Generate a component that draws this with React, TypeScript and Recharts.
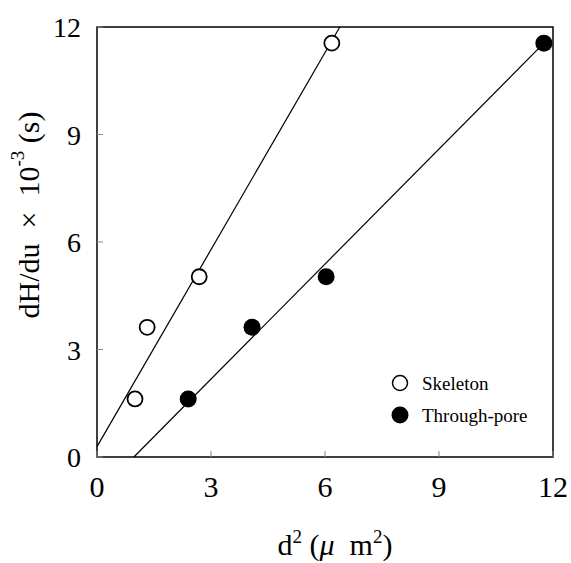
import { ScatterChart, Scatter, XAxis, YAxis, ReferenceArea } from "recharts"

const skeletonX = [1.0, 1.32, 2.69, 6.18]
const skeletonY = [1.62, 3.62, 5.03, 11.55]
const throughX = [2.4, 4.08, 6.03, 11.76]
const throughY = [1.62, 3.62, 5.03, 11.55]

// fitted lines, end points
const skeletonFitX = [0, 6.39]
const skeletonFitY = [0.29, 12]
const throughFitX = [0.97, 11.76]
const throughFitY = [0, 11.55]

const ticks = [0, 3, 6, 9, 12]

const zip = (xs: number[], ys: number[]) => xs.map((x, i) => ({ x, y: ys[i] }))

const skeleton = zip(skeletonX, skeletonY)
const through = zip(throughX, throughY)
const skeletonFit = zip(skeletonFitX, skeletonFitY)
const throughFit = zip(throughFitX, throughFitY)

const FONT = "'Liberation Serif', 'Times New Roman', serif"

const OpenDot = (p: any) => (
    <circle cx={p.cx} cy={p.cy} r={7.5} fill="#fff" stroke="#000" strokeWidth={1.8} />
)
const FilledDot = (p: any) => <circle cx={p.cx} cy={p.cy} r={8.5} fill="#000" />
const NoDot = () => <g />

const XTick = (p: any) => (
    <g>
        <line x1={p.x} y1={p.y} x2={p.x} y2={p.y - 6} stroke="#888" strokeWidth={1} />
        <text x={p.x} y={p.y + 40} textAnchor="middle" fontFamily={FONT} fontSize={30} fill="#000">
            {p.payload.value}
        </text>
    </g>
)

const YTick = (p: any) => (
    <g>
        <line x1={p.x} y1={p.y} x2={p.x + 6} y2={p.y} stroke="#888" strokeWidth={1} />
        <text x={p.x - 16} y={p.y + 10} textAnchor="end" fontFamily={FONT} fontSize={28} fill="#000">
            {p.payload.value}
        </text>
    </g>
)

const LegendBox = () => (
    <svg width={170} height={60} style={{ position: "absolute", left: 390, top: 370, fontFamily: FONT }}>
        <circle cx={10} cy={13} r={7.5} fill="#fff" stroke="#000" strokeWidth={1.5} />
        <text x={32} y={20} fontSize={19} fill="#000">Skeleton</text>
        <circle cx={10} cy={45} r={8.5} fill="#000" />
        <text x={32} y={52} fontSize={19} fill="#000">Through-pore</text>
    </svg>
)

export default function App() {
    return (
        <div style={{ position: "absolute", left: 0, top: 0, width: 571, height: 563, background: "#fff" }}>
            <ScatterChart width={571} height={563} margin={{ top: 27, right: 18, left: 0, bottom: 0 }}>
                <XAxis
                    type="number"
                    dataKey="x"
                    domain={[0, 12]}
                    ticks={ticks}
                    height={106}
                    tickSize={0}
                    tickMargin={0}
                    tickLine={false}
                    axisLine={false}
                    tick={<XTick />}
                    label={{
                        content: () => (
                            <text x={335} y={555} textAnchor="middle" fontFamily={FONT} fontSize={30} fill="#000">
                                d<tspan dy={-12} fontSize={19}>2</tspan>
                                <tspan dy={12}>{"\u00A0("}</tspan>
                                <tspan fontStyle="italic">μ</tspan>
                                <tspan>{"\u00A0\u00A0m"}</tspan>
                                <tspan dy={-12} fontSize={19}>2</tspan>
                                <tspan dy={12}>)</tspan>
                            </text>
                        ),
                    }}
                />
                <YAxis
                    type="number"
                    dataKey="y"
                    domain={[0, 12]}
                    ticks={ticks}
                    width={97}
                    tickSize={0}
                    tickMargin={0}
                    tickLine={false}
                    axisLine={false}
                    tick={<YTick />}
                    label={{
                        content: () => (
                            <text
                                x={32}
                                y={215}
                                transform="rotate(-90, 32, 215)"
                                textAnchor="middle"
                                dominantBaseline="middle"
                                fontFamily={FONT}
                                fontSize={30}
                                fill="#000"
                            >
                                {"dH/du\u00A0\u00A0×\u00A0\u00A010"}
                                <tspan dy={-12} fontSize={19}>-3</tspan>
                                <tspan dy={12}>{"\u00A0(s)"}</tspan>
                            </text>
                        ),
                    }}
                />
                <ReferenceArea x1={0} x2={12} y1={0} y2={12} fill="none" stroke="#000" strokeWidth={1.5} ifOverflow="visible" />
                <Scatter data={skeletonFit} line={{ stroke: "#000", strokeWidth: 1.2 }} shape={NoDot} isAnimationActive={false} legendType="none" />
                <Scatter data={throughFit} line={{ stroke: "#000", strokeWidth: 1.2 }} shape={NoDot} isAnimationActive={false} legendType="none" />
                <Scatter name="Skeleton" data={skeleton} shape={OpenDot} isAnimationActive={false} />
                <Scatter name="Through-pore" data={through} shape={FilledDot} isAnimationActive={false} />
            </ScatterChart>
            <LegendBox />
        </div>
    )
}
